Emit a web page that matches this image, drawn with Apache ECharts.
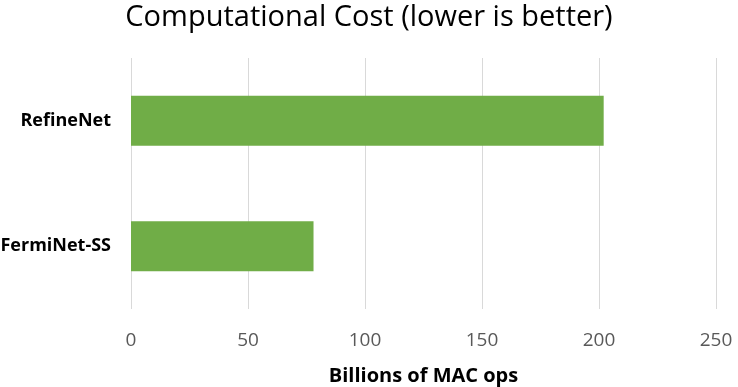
<!DOCTYPE html>
<html>
<head>
<meta charset="utf-8">
<script src="https://cdn.jsdelivr.net/npm/echarts@6/dist/echarts.min.js"></script>
<style>
  html, body { margin: 0; padding: 0; background: #fff; }
  #main { width: 738px; height: 387px; }
</style>
</head>
<body>
<div id="main"></div>
<script>
// chart data
const models = ["FermiNet-SS", "RefineNet"];
const macOps = [78, 202];
const xTicks = [0, 50, 100, 150, 200, 250];

var chartDom = document.getElementById("main");
var myChart = echarts.init(chartDom);

var option = {
  animation: false,
  title: {
    text: "Computational Cost (lower is better)",
    left: "center",
    top: -2,
    textStyle: {
      fontFamily: "Open Sans",
      fontSize: 29,
      fontWeight: "normal",
      color: "#000",
    },
  },
  grid: {
    left: 131,
    right: 22,
    top: 58,
    bottom: 78,
    outerBoundsMode: "none",
    containLabel: false,
  },
  xAxis: {
    type: "value",
    min: xTicks[0],
    max: xTicks[xTicks.length - 1],
    interval: 50,
    name: "Billions of MAC ops",
    nameLocation: "middle",
    nameGap: 57,
    nameTextStyle: {
      fontFamily: "Open Sans",
      fontSize: 20,
      fontWeight: "bold",
      color: "#000",
    },
    axisLine: { show: false },
    axisTick: { show: false },
    axisLabel: {
      margin: 22,
      fontFamily: "Open Sans",
      fontSize: 19,
      color: "#595959",
    },
    splitLine: { lineStyle: { color: "#d9d9d9", width: 1 } },
  },
  yAxis: {
    type: "category",
    data: models,
    axisLine: { show: false },
    axisTick: { show: false },
    axisLabel: {
      margin: 20,
      fontFamily: "Open Sans",
      fontSize: 18,
      fontWeight: "bold",
      color: "#000",
    },
  },
  series: [
    {
      name: "MAC ops",
      type: "bar",
      data: macOps,
      barCategoryGap: "60%",
      itemStyle: { color: "#70ad47" },
    },
  ],
};

option && myChart.setOption(option);
</script>
</body>
</html>
